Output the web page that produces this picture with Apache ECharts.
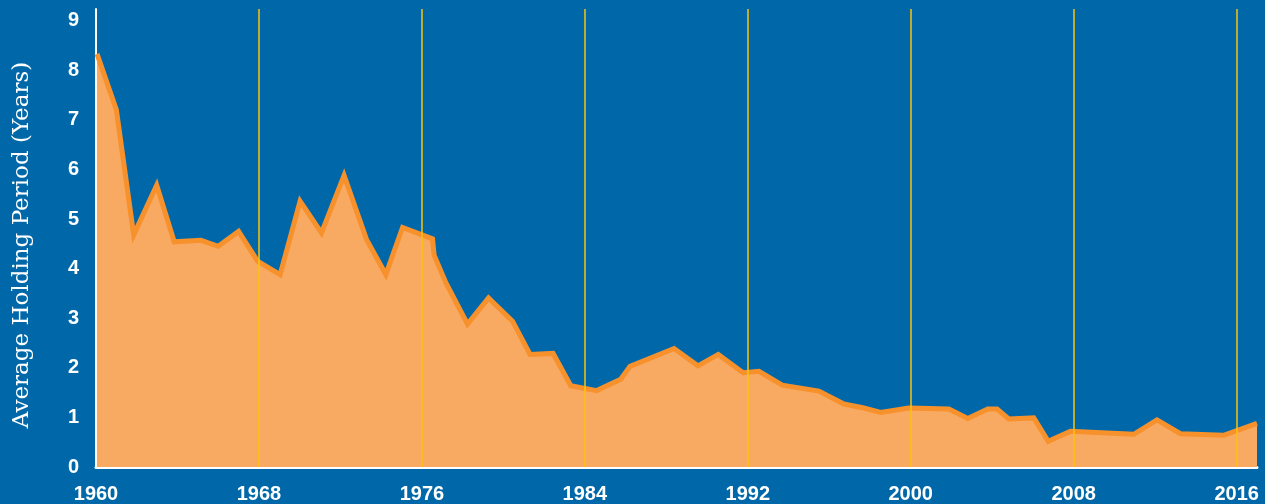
<!DOCTYPE html>
<html>
<head>
<meta charset="utf-8">
<script src="https://cdn.jsdelivr.net/npm/echarts@6/dist/echarts.min.js"></script>
<style>
html,body{margin:0;padding:0;background:#0068a9;}
#c{width:1265px;height:504px;}
</style>
</head>
<body>
<div id="c"></div>
<script>
// Data (year, average holding period in years)
const years = [1960.05, 1961.0, 1961.85, 1962.98, 1963.84, 1965.15, 1966.0, 1967.0, 1967.93, 1969.04,
  1970.02, 1971.07, 1972.18, 1973.28, 1974.23, 1975.05, 1976.52, 1976.6, 1977.17, 1978.24,
  1979.27, 1980.45, 1981.31, 1982.44, 1983.31, 1984.58, 1985.76, 1986.22, 1988.38, 1989.55,
  1990.55, 1991.77, 1992.55, 1993.69, 1995.49, 1996.72, 1997.7, 1998.52, 1999.9, 2001.87,
  2002.8, 2003.78, 2004.24, 2004.81, 2006.04, 2006.75, 2007.84, 2010.95, 2012.09, 2013.24,
  2015.36, 2017.0];
const holding = [8.33, 7.20, 4.68, 5.68, 4.54, 4.57, 4.45, 4.75, 4.15, 3.88,
  5.36, 4.72, 5.88, 4.59, 3.88, 4.83, 4.60, 4.27, 3.72, 2.88,
  3.41, 2.94, 2.27, 2.29, 1.64, 1.54, 1.77, 2.03, 2.39, 2.04,
  2.27, 1.90, 1.93, 1.65, 1.53, 1.27, 1.19, 1.10, 1.19, 1.17,
  0.98, 1.17, 1.17, 0.97, 0.99, 0.52, 0.72, 0.66, 0.95, 0.67,
  0.64, 0.88];
const gridYears = [1968, 1976, 1984, 1992, 2000, 2008, 2016];
const yTitle = 'Average Holding Period (Years)';
const Y_MAX = 9.235;

const chart = echarts.init(document.getElementById('c'), null, {renderer: 'canvas'});
chart.setOption({
  backgroundColor: '#0068a9',
  animation: false,
  grid: {left: 96, right: 8, top: 9, bottom: 36},
  xAxis: {
    type: 'value', min: 1960, max: 2017, interval: 8,
    axisLine: {show: true, lineStyle: {color: '#ffffff', width: 3}},
    axisTick: {show: false},
    splitLine: {show: false},
    axisLabel: {color: '#ffffff', fontSize: 20, fontWeight: 'bold', fontFamily: 'Liberation Sans, Arial, sans-serif', margin: 17,
      showMaxLabel: false, formatter: v => String(v)}
  },
  yAxis: {
    type: 'value', min: 0, max: Y_MAX, interval: 1,
    axisLine: {show: true, lineStyle: {color: '#ffffff', width: 2}},
    axisTick: {show: false},
    splitLine: {show: false},
    axisLabel: {color: '#ffffff', fontSize: 20, fontWeight: 'bold', fontFamily: 'Liberation Sans, Arial, sans-serif', margin: 17,
      padding: [0, 0, 8, 0], showMaxLabel: false}
  },
  graphic: [{
    type: 'text', x: 22, y: 245, rotation: Math.PI / 2,
    style: {text: yTitle, fill: '#ffffff', font: '23px "DejaVu Serif", serif', textAlign: 'center', textVerticalAlign: 'middle'}
  }],
  series: [{
    type: 'line',
    z: 2,
    data: years.map((y, i) => [y, holding[i]]),
    symbol: 'none',
    lineStyle: {color: '#f7912c', width: 5, join: 'miter'},
    areaStyle: {color: '#f8a962', opacity: 1}
  }, {
    type: 'custom',
    z: 3,
    silent: true,
    data: gridYears.map(y => [y]),
    renderItem: function (params, api) {
      const top = api.coord([api.value(0), Y_MAX]);
      const bot = api.coord([api.value(0), 0]);
      const x = Math.round(top[0]);
      return {
        type: 'line',
        shape: {x1: x, y1: top[1], x2: x, y2: bot[1]},
        style: {stroke: '#fac50d', lineWidth: 1.5}
      };
    }
  }]
});
</script>
</body>
</html>
